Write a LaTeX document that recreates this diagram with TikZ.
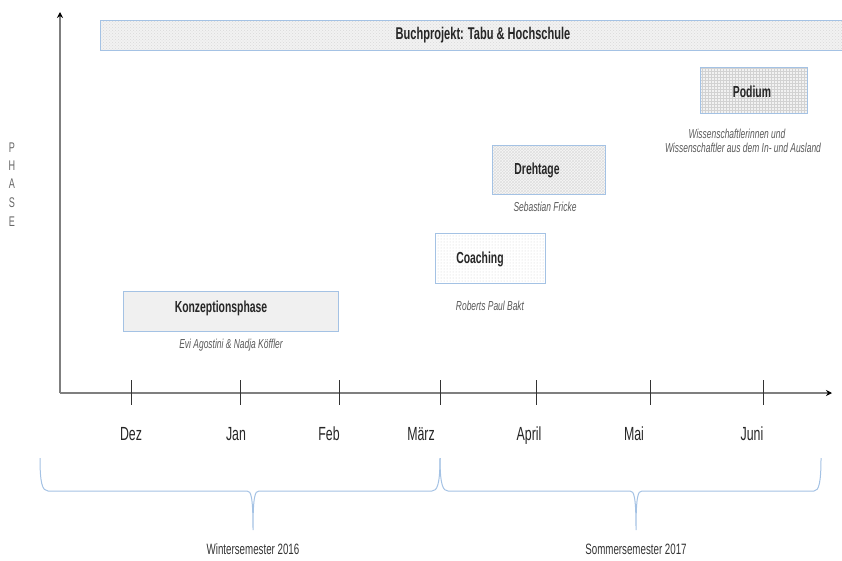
\documentclass[tikz,border=0pt]{standalone}
\usepackage{fontspec}
\setmainfont{Liberation Sans}[FakeStretch=0.65]
\usetikzlibrary{patterns,arrows.meta}
\definecolor{boxblue}{HTML}{A4C2E4}
\definecolor{axisgray}{HTML}{7F7F7F}
\definecolor{subgray}{HTML}{595959}
\begin{document}
\begin{tikzpicture}[x=1pt,y=-1pt,
  phasebox/.style={draw=boxblue, line width=1pt, anchor=north west, inner sep=0pt},
  boxtitle/.style={font=\bfseries\fontsize{16}{18}\selectfont, text=black!85},
  subtext/.style={font=\itshape\fontsize{13}{14}\selectfont, text=subgray, align=center},
  month/.style={font=\fontsize{19}{21}\selectfont, text=black!85, anchor=base},
  semester/.style={font=\fontsize{15}{17}\selectfont, text=black!80},
  tickline/.style={draw=black!80, line width=0.7pt},
  axis/.style={draw=axisgray, line width=1.3pt, -{Stealth[length=6pt,width=6pt,color=black]}},
  brace/.style={draw=boxblue, line width=1pt},
  phaseletter/.style={font=\fontsize{14}{16}\selectfont, text=black!60}
]
\useasboundingbox (0,0) rectangle (842,560);

% axes
\coordinate (origin) at (60,393);
\coordinate (ytop) at (60,12);
\coordinate (xend) at (832,393);
\draw[axis] (origin) -- (ytop);
\draw[axis] (origin) -- (xend);

% PHASE label
\foreach \l/\yy in {P/148,H/166,A/184,S/203,E/222}
  \node[phaseletter] (ph\l) at (12,\yy) {\l};

% Buchprojekt bar
\node[phasebox, minimum width=742pt, minimum height=30pt,
      preaction={fill=gray!10}, pattern=crosshatch dots, pattern color=gray!30]
      (buch) at (100,20) {};
\node[font=\bfseries\fontsize{17}{19}\selectfont, text=black!85] (buchtxt) at (483,35) {Buchprojekt:  Tabu \& Hochschule};

% Konzeptionsphase
\node[phasebox, minimum width=215pt, minimum height=40pt, fill=gray!12] (konz) at (123,291) {};
\node[boxtitle] (konztxt) at (221,308) {Konzeptionsphase};
\node[subtext] (konzsub) at (231,345) {Evi Agostini  \& Nadja  Köffler};

% Coaching
\node[phasebox, minimum width=110pt, minimum height=50pt,
      preaction={fill=white}, pattern=dots, pattern color=gray!35] (coach) at (435,233) {};
\node[boxtitle] (coachtxt) at (480,259) {Coaching};
\node[subtext] (coachsub) at (490,306) {Roberts  Paul  Bakt};

% Drehtage
\node[phasebox, minimum width=113pt, minimum height=49pt,
      preaction={fill=gray!6}, pattern=crosshatch, pattern color=gray!25] (dreh) at (492,145) {};
\node[boxtitle] (drehtxt) at (537,170) {Drehtage};
\node[subtext] (drehsub) at (545,207) {Sebastian  Fricke};

% Podium
\node[phasebox, minimum width=107pt, minimum height=46pt,
      preaction={fill=gray!10}, pattern=grid, pattern color=gray!35] (pod) at (700,67) {};
\node[boxtitle] (podtxt) at (752,92) {Podium};
\node[subtext] (podsub1) at (737,134) {Wissenschaftlerinnen  und};
\node[subtext] (podsub2) at (743,148) {Wissenschaftler  aus dem  In-  und  Ausland};

% ticks and month labels
\foreach \name/\tx/\lx in {Dez/131/131, Jan/240/236, Feb/339/329, März/440/421, April/536/529, Mai/650/634, Juni/763/752}{
  \coordinate (t\name a) at (\tx,380);
  \coordinate (t\name b) at (\tx,405);
  \draw[tickline] (t\name a) -- (t\name b);
  \node[month] (m\name) at (\lx,440) {\name};
}

% braces
\coordinate (bL) at (40,458);
\coordinate (bM) at (440,458);
\coordinate (bR) at (821,458);
\draw[brace] (bL) .. controls (40,482) and (42,491) .. (48,491) -- (247,491)
  .. controls (251,491) and (253,496) .. (253,530)
  .. controls (253,496) and (255,491) .. (259,491) -- (432,491)
  .. controls (437,491) and (440,485) .. (bM);
\draw[brace] (bM) .. controls (440,485) and (443,491) .. (448,491) -- (630,491)
  .. controls (634,491) and (636,496) .. (636,530)
  .. controls (636,496) and (638,491) .. (642,491) -- (814,491)
  .. controls (819,491) and (821,482) .. (bR);
\node[semester] (ws) at (253,549) {Wintersemester  2016};
\node[semester] (ss) at (636,549) {Sommersemester  2017};
\end{tikzpicture}
\end{document}
